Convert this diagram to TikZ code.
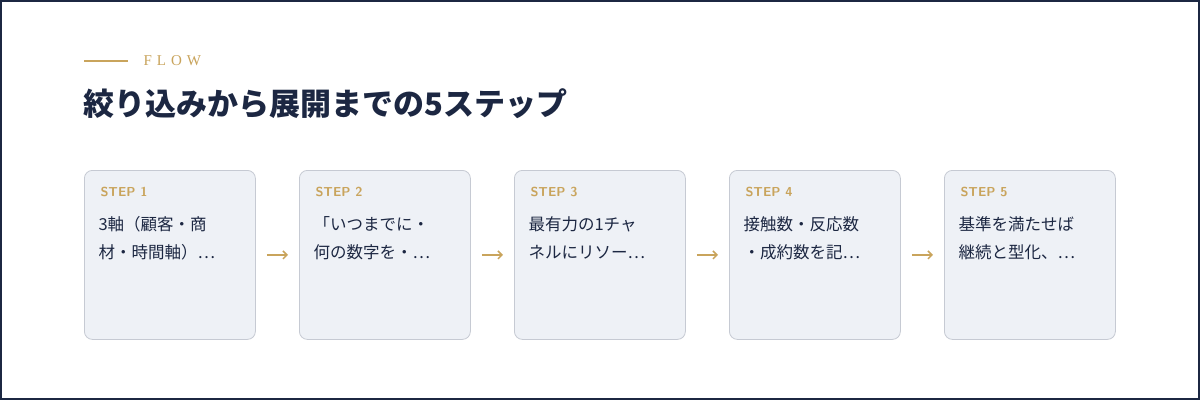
\documentclass[tikz,border=0pt]{standalone}
\usepackage{fontspec}
\usetikzlibrary{arrows.meta}
\setmainfont{Liberation Serif}
\newfontfamily\cjk{Noto Sans CJK JP}
\begin{document}
\begin{tikzpicture}[x=1pt,y=-1pt,
  box/.style={draw=boxline,fill=boxfill,rounded corners=8pt,line width=0.8pt},
  steplab/.style={anchor=west,text=gold,font=\sffamily\bfseries\fontsize{13}{13}\selectfont},
  body/.style={anchor=north west,text=navy,font=\cjk\fontsize{16.5}{28}\selectfont,align=left},
  arr/.style={-{Straight Barb[length=4pt,width=8pt]},draw=gold,line width=1.5pt}]
\definecolor{navy}{HTML}{1C2742}
\definecolor{gold}{HTML}{C9A45C}
\definecolor{boxfill}{HTML}{EEF1F6}
\definecolor{boxline}{HTML}{C6CAD3}
\useasboundingbox (0,0) rectangle (1200,400);
\fill[white] (0,0) rectangle (1200,400);
\draw[navy,line width=2pt] (1,1) rectangle (1199,399);
\draw[gold,line width=1.2pt] (84,61) -- (128,61);
\node[anchor=west,text=gold,font=\fontsize{15}{15}\selectfont] (flow) at (140,61) {F\,\,L\,\,O\,\,W};
\node[anchor=west,text=navy,font=\cjk\bfseries\fontsize{31}{31}\selectfont] (title) at (80,104) {絞り込みから展開までの5ステップ};
\foreach \i/\t [count=\k] in {0/{3軸（顧客・商\\材・時間軸）…},1/{「いつまでに・\\何の数字を・…},2/{最有力の1チャ\\ネルにリソー…},3/{接触数・反応数\\・成約数を記…},4/{基準を満たせば\\継続と型化、…}}{
  \node[box,minimum width=171pt,minimum height=169pt,anchor=north west] (b\k) at (84+215*\i,170) {};
  \node[steplab] (s\k) at (97+215*\i,192) {STEP \k};
  \node[body] (t\k) at (95+215*\i,213) {\t};
}
\foreach \a/\b in {1/2,2/3,3/4,4/5}{
  \draw[arr] ([xshift=11pt]b\a.east) -- ([xshift=-11pt]b\b.west);
}
\end{tikzpicture}
\end{document}
